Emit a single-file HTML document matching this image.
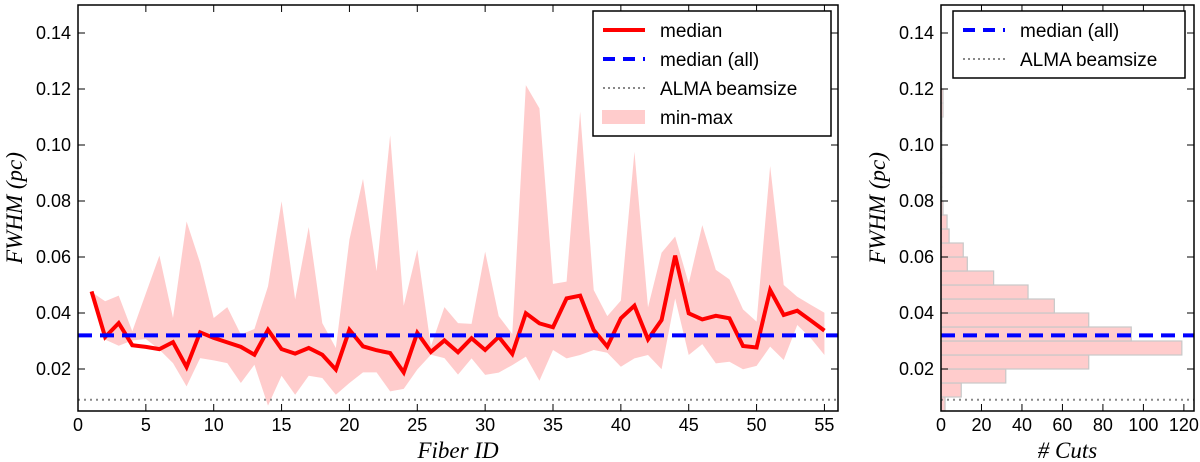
<!DOCTYPE html>
<html><head><meta charset="utf-8"><style>
html,body{margin:0;padding:0;background:#fff;}
svg{display:block;font-family:"Liberation Sans",sans-serif;}
</style></head><body>
<svg id="chart" width="1200" height="462" viewBox="0 0 1200 462" xmlns="http://www.w3.org/2000/svg"></svg>
<script>
const fiberIds=[];for(let i=1;i<=55;i++)fiberIds.push(i);
const medianVals=[0.0477,0.0314,0.0364,0.0285,0.0279,0.0271,0.0296,0.0207,0.0331,0.0311,0.0295,0.0279,0.0251,0.0340,0.0271,0.0255,0.0275,0.0251,0.0198,0.0340,0.0281,0.0267,0.0257,0.0188,0.0329,0.0261,0.0302,0.0260,0.0310,0.0268,0.0315,0.0254,0.0399,0.0363,0.0349,0.0452,0.0462,0.0339,0.0280,0.0381,0.0426,0.0306,0.0375,0.0605,0.0399,0.0377,0.0390,0.0381,0.0282,0.0277,0.0482,0.0393,0.0408,0.0373,0.0337];
const maxVals=[0.0475,0.0442,0.0462,0.0335,0.0470,0.0605,0.0382,0.0727,0.0579,0.0382,0.0421,0.0323,0.0343,0.0495,0.0799,0.0448,0.0707,0.0364,0.0275,0.0662,0.0879,0.0549,0.1035,0.0426,0.0626,0.0281,0.0421,0.0364,0.0361,0.0619,0.0389,0.0325,0.1214,0.1131,0.0504,0.0512,0.1119,0.0482,0.0389,0.0444,0.0976,0.0420,0.0615,0.0673,0.0506,0.0714,0.0554,0.0520,0.0413,0.0369,0.0925,0.0500,0.0458,0.0429,0.0401];
const minVals=[0.0465,0.0305,0.0283,0.0302,0.0307,0.0269,0.0221,0.0138,0.0239,0.0231,0.0221,0.0150,0.0215,0.0069,0.0176,0.0108,0.0176,0.0168,0.0108,0.0150,0.0188,0.0188,0.0120,0.0129,0.0198,0.0251,0.0239,0.0180,0.0238,0.0179,0.0187,0.0214,0.0244,0.0158,0.0268,0.0238,0.0250,0.0268,0.0258,0.0208,0.0238,0.0250,0.0199,0.0452,0.0250,0.0289,0.0220,0.0226,0.0199,0.0211,0.0280,0.0232,0.0357,0.0310,0.0250];
const medianAll=0.032;
const almaBeam=0.009;
const histBinStarts=[0.005,0.010,0.015,0.020,0.025,0.030,0.035,0.040,0.045,0.050,0.055,0.060,0.065,0.070,0.075,0.080,0.085,0.090,0.095,0.100,0.105,0.110,0.115];
const histCounts=[2,10,32,73,119,94,73,56,43,26,13,11,4,3,1,0.5,0.5,0.5,0.5,0.5,0.5,1,1];
const yTicks=[0.02,0.04,0.06,0.08,0.10,0.12,0.14];
const xTicksLeft=[0,5,10,15,20,25,30,35,40,45,50,55];
const xTicksRight=[0,20,40,60,80,100,120];

const NS="http://www.w3.org/2000/svg";
const svg=document.getElementById('chart');
function el(tag,attrs,parent,text){const e=document.createElementNS(NS,tag);for(const k in attrs)e.setAttribute(k,attrs[k]);if(text!==undefined)e.textContent=text;(parent||svg).appendChild(e);return e;}
const Y0=0.005,Y1=0.15,TOP=5,BOT=411;
const y=v=>BOT-(v-Y0)/(Y1-Y0)*(BOT-TOP);
const L={x0:78,x1:838},R={x0:941,x1:1194};
const xl=v=>L.x0+v/56*(L.x1-L.x0);
const xr=v=>R.x0+v/125*(R.x1-R.x0);

const gL=el('g',{},svg);


let pts=fiberIds.map((f,i)=>xl(f)+','+y(maxVals[i]));
for(let i=fiberIds.length-1;i>=0;i--)pts.push(xl(fiberIds[i])+','+y(minVals[i]));
const band=el('polygon',{points:pts.join(' '),fill:'#ffcccc',stroke:'none'},gL);


const alL=el('line',{x1:L.x0,x2:L.x1,y1:y(almaBeam),y2:y(almaBeam),stroke:'#888','stroke-width':2,'stroke-dasharray':'2,4'},gL);


const medL=el('polyline',{points:fiberIds.map((f,i)=>xl(f)+','+y(medianVals[i])).join(' '),fill:'none',stroke:'#ff0000','stroke-width':4,'stroke-linejoin':'miter'},gL);


const maL=el('line',{x1:L.x0,x2:L.x1,y1:y(medianAll),y2:y(medianAll),stroke:'#0000ff','stroke-width':4,'stroke-dasharray':'14,8'},gL);



const gR=el('g',{},svg);


histBinStarts.forEach((b,i)=>{
  const r=el('rect',{x:xr(0),y:y(b+0.005),width:xr(histCounts[i])-xr(0),height:y(b)-y(b+0.005),fill:'#ffcccc',stroke:'#c8c8c8','stroke-width':1.2},gR);
  
  
});
const alR=el('line',{x1:R.x0,x2:R.x1,y1:y(almaBeam),y2:y(almaBeam),stroke:'#888','stroke-width':2,'stroke-dasharray':'2,4'},gR);


const maR=el('line',{x1:R.x0,x2:R.x1,y1:y(medianAll),y2:y(medianAll),stroke:'#0000ff','stroke-width':4,'stroke-dasharray':'14,8'},gR);



function axes(P,xf,xt,name,xlabel){
  const g=el('g',{},svg);
  
  
  el('rect',{x:P.x0,y:TOP,width:P.x1-P.x0,height:BOT-TOP,fill:'none',stroke:'#000','stroke-width':1.5},g);
  yTicks.forEach(t=>{
    const yy=y(t);
    el('line',{x1:P.x0,x2:P.x0+7,y1:yy,y2:yy,stroke:'#000','stroke-width':1},g);
    el('line',{x1:P.x1,x2:P.x1-7,y1:yy,y2:yy,stroke:'#000','stroke-width':1},g);
    const tx=el('text',{x:P.x0-7,y:yy+6,'text-anchor':'end','font-size':18},g,t.toFixed(2));
    
    
  });
  xt.forEach(t=>{
    const xx=xf(t);
    el('line',{x1:xx,x2:xx,y1:BOT,y2:BOT-7,stroke:'#000','stroke-width':1},g);
    el('line',{x1:xx,x2:xx,y1:TOP,y2:TOP+7,stroke:'#000','stroke-width':1},g);
    const tx=el('text',{x:xx,y:BOT+20,'text-anchor':'middle','font-size':18},g,String(t));
    
    
  });
  const xlab=el('text',{x:(P.x0+P.x1)/2,y:458,'text-anchor':'middle','font-size':23,'font-style':'italic','font-family':'Liberation Serif, serif'},g,xlabel);
  
  
  const cx=P.x0-56,cy=(TOP+BOT)/2;
  const ylab=el('text',{x:cx,y:cy,'text-anchor':'middle','font-size':23,'font-style':'italic','font-family':'Liberation Serif, serif',transform:`rotate(-90 ${cx} ${cy})`},g,'FWHM (pc)');
  
  
}
axes(L,xl,xTicksLeft,'fiber-axes','Fiber ID');
axes(R,xr,xTicksRight,'histogram-axes','# Cuts');

function legend(x,y0,w,items,name){
  const g=el('g',{},svg);
  
  
  el('rect',{x:x,y:y0,width:w,height:items.length*29+9,fill:'#fff',stroke:'#000','stroke-width':1.5},g);
  items.forEach((it,i)=>{
    const cy=y0+19+i*29;
    if(it.type==='line')el('line',{x1:x+10,x2:x+52,y1:cy,y2:cy,stroke:'#f00','stroke-width':4},g);
    if(it.type==='dash')el('line',{x1:x+10,x2:x+52,y1:cy,y2:cy,stroke:'#00f','stroke-width':4,'stroke-dasharray':'12,8'},g);
    if(it.type==='dot')el('line',{x1:x+10,x2:x+52,y1:cy,y2:cy,stroke:'#888','stroke-width':2,'stroke-dasharray':'2,3'},g);
    if(it.type==='fill')el('rect',{x:x+9,y:cy-7,width:43,height:14,fill:'#ffcccc'},g);
    const t=el('text',{x:x+67,y:cy+7,'font-size':19},g,it.label);
    
    
  });
}
legend(593,11,238,[{type:'line',label:'median'},{type:'dash',label:'median (all)'},{type:'dot',label:'ALMA beamsize'},{type:'fill',label:'min-max'}],'fiber-legend');
legend(953,11,232,[{type:'dash',label:'median (all)'},{type:'dot',label:'ALMA beamsize'}],'histogram-legend');
</script>
</body></html>
